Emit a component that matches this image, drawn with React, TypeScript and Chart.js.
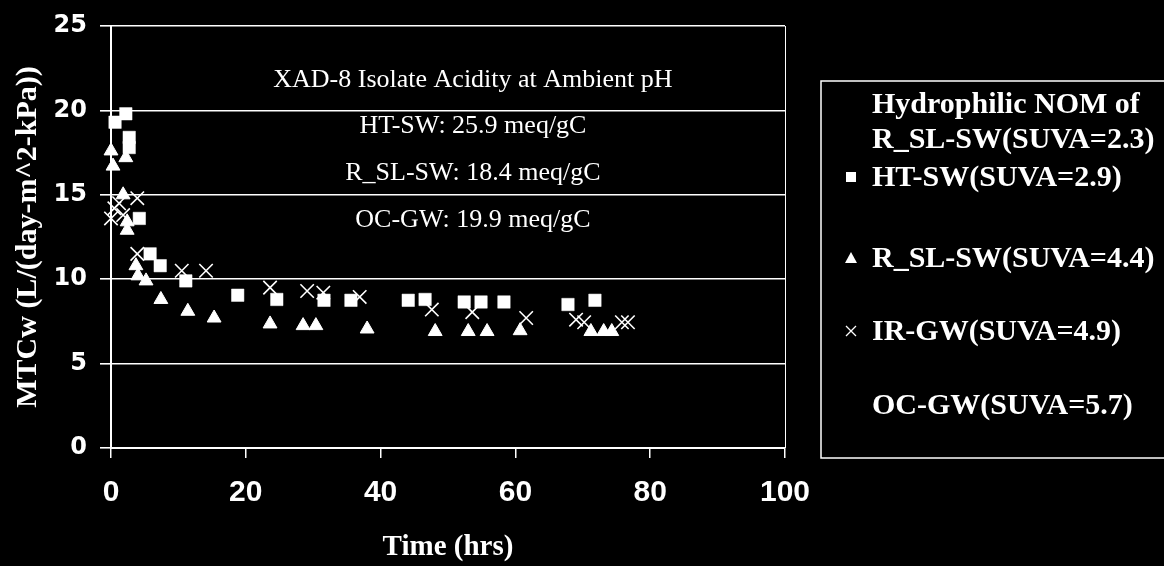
import React, { useEffect, useRef } from 'react';
import { Chart, registerables } from 'chart.js';

Chart.register(...registerables);

// ---- tick labels ----
const xTicks = [0, 20, 40, 60, 80, 100];
const yTicks = [0, 5, 10, 15, 20, 25];

// ---- series: HT-SW (SUVA=2.9), squares ----
const htTime = [0.6, 2.2, 2.7, 2.7, 4.2, 5.8, 7.3, 11.1, 18.8, 24.6, 31.6, 35.6, 44.1, 46.6, 52.4, 54.9, 58.3, 67.8, 71.8];
const htMtc = [19.3, 19.8, 18.4, 17.8, 13.6, 11.5, 10.8, 9.9, 9.05, 8.8, 8.75, 8.75, 8.75, 8.8, 8.65, 8.65, 8.65, 8.5, 8.75];

// ---- series: R_SL-SW (SUVA=4.4), triangles ----
const rslTime = [0.0, 0.3, 2.2, 1.8, 2.4, 2.4, 3.7, 4.0, 5.2, 7.4, 11.4, 15.3, 23.6, 28.5, 30.4, 38.0, 48.1, 53.0, 55.8, 60.7, 71.2, 73.1, 74.3];
const rslMtc = [17.6, 16.7, 17.2, 15.0, 13.4, 12.9, 10.8, 10.2, 9.9, 8.8, 8.1, 7.7, 7.35, 7.25, 7.25, 7.05, 6.9, 6.9, 6.9, 6.95, 6.9, 6.9, 6.9];

// ---- series: IR-GW (SUVA=4.9), crosses ----
const irTime = [0.0, 0.5, 1.2, 1.8, 3.9, 3.9, 10.5, 14.1, 23.6, 29.1, 31.5, 36.9, 47.6, 53.6, 61.6, 69.0, 70.2, 75.8, 76.7];
const irMtc = [13.6, 14.2, 14.5, 13.8, 14.8, 11.5, 10.5, 10.5, 9.5, 9.3, 9.2, 8.95, 8.2, 8.05, 7.7, 7.6, 7.45, 7.45, 7.45];

// ---- legend & annotation text ----
const legendItems = [
  'Hydrophilic NOM of',
  'R_SL-SW(SUVA=2.3)',
  'HT-SW(SUVA=2.9)',
  'R_SL-SW(SUVA=4.4)',
  'IR-GW(SUVA=4.9)',
  'OC-GW(SUVA=5.7)',
];
const legendMarkers: (string | null)[] = [null, null, 'rect', 'triangle', 'crossRot', null];

const annotationLines = [
  'XAD-8 Isolate Acidity at Ambient pH',
  'HT-SW: 25.9 meq/gC',
  'R_SL-SW: 18.4 meq/gC',
  'OC-GW: 19.9 meq/gC',
];
const annotationX = 53.7;
const annotationY = [21.4, 18.66, 15.88, 13.1];

const toPoints = (xs: number[], ys: number[]) => xs.map((x, i) => ({ x, y: ys[i] }));

const overlayPlugin = {
  id: 'overlay',
  afterDraw(chart: any) {
    const { ctx, chartArea, scales } = chart;
    ctx.save();
    ctx.strokeStyle = '#fff';
    ctx.fillStyle = '#fff';
    // right border of plot
    ctx.lineWidth = 1;
    ctx.beginPath();
    ctx.moveTo(chartArea.right + 0.5, chartArea.top);
    ctx.lineTo(chartArea.right + 0.5, chartArea.bottom);
    ctx.stroke();

    // annotation text
    ctx.font = "26px 'Liberation Serif'";
    ctx.textAlign = 'center';
    ctx.textBaseline = 'alphabetic';
    annotationLines.forEach((t, i) => {
      ctx.fillText(t, scales.x.getPixelForValue(annotationX), scales.y.getPixelForValue(annotationY[i]));
    });

    // legend box
    const boxLeft = 821;
    const boxTop = 81;
    const boxBottom = 458;
    ctx.lineWidth = 1.5;
    ctx.strokeRect(boxLeft, boxTop, 420, boxBottom - boxTop);
    const rowY = [104, 139, 177, 258, 331, 405];
    ctx.font = "bold 30px 'Liberation Serif'";
    ctx.textAlign = 'left';
    ctx.textBaseline = 'middle';
    legendItems.forEach((t, i) => {
      const y = rowY[i];
      ctx.fillText(t, 872, y + 1);
      const m = legendMarkers[i];
      const mx = 851;
      if (m === 'rect') {
        ctx.fillRect(mx - 5, y - 5, 10, 10);
      } else if (m === 'triangle') {
        ctx.beginPath();
        ctx.moveTo(mx, y - 6);
        ctx.lineTo(mx + 6, y + 5);
        ctx.lineTo(mx - 6, y + 5);
        ctx.closePath();
        ctx.fill();
      } else if (m === 'crossRot') {
        ctx.lineWidth = 1.3;
        ctx.beginPath();
        ctx.moveTo(mx - 5, y - 5);
        ctx.lineTo(mx + 5, y + 5);
        ctx.moveTo(mx + 5, y - 5);
        ctx.lineTo(mx - 5, y + 5);
        ctx.stroke();
      }
    });
    ctx.restore();
  },
};

export default function App() {
  const canvasRef = useRef<HTMLCanvasElement | null>(null);

  useEffect(() => {
    if (!canvasRef.current) return;
    const chart = new Chart(canvasRef.current, {
      type: 'scatter',
      data: {
        datasets: [
          {
            label: 'HT-SW(SUVA=2.9)',
            data: toPoints(htTime, htMtc),
            pointStyle: 'rect',
            pointRadius: 8.8,
            backgroundColor: '#fff',
            borderColor: '#fff',
            borderWidth: 0.5,
            clip: false,
          },
          {
            label: 'R_SL-SW(SUVA=4.4)',
            data: toPoints(rslTime, rslMtc),
            pointStyle: 'triangle',
            pointRadius: 8,
            backgroundColor: '#fff',
            borderColor: '#fff',
            borderWidth: 1,
            clip: false,
          },
          {
            label: 'IR-GW(SUVA=4.9)',
            data: toPoints(irTime, irMtc),
            pointStyle: 'crossRot',
            pointRadius: 9.5,
            backgroundColor: '#fff',
            borderColor: '#fff',
            borderWidth: 1.6,
            clip: false,
          },
        ],
      },
      options: {
        animation: false,
        responsive: false,
        maintainAspectRatio: false,
        events: [],
        layout: { padding: { left: 0, top: 26, right: 379, bottom: 0 } },
        plugins: {
          legend: { display: false },
          tooltip: { enabled: false },
        },
        scales: {
          x: {
            type: 'linear',
            min: 0,
            max: 100,
            afterBuildTicks: (scale: any) => {
              scale.ticks = xTicks.map((v) => ({ value: v }));
            },
            afterFit: (scale: any) => {
              scale.height = 118;
            },
            grid: {
              drawOnChartArea: false,
              drawTicks: true,
              tickLength: 10,
              color: '#fff',
              lineWidth: 1.5,
            },
            border: { display: true, color: '#fff', width: 2 },
            ticks: {
              color: '#fff',
              padding: 20,
              font: { family: "'Liberation Sans', Arial", weight: 'bold', size: 30, lineHeight: 1 },
              maxRotation: 0,
            },
            title: {
              display: true,
              text: 'Time (hrs)',
              color: '#fff',
              font: { family: "'Liberation Serif'", weight: 'bold', size: 29, lineHeight: 1 },
              padding: { top: 0, bottom: 4 },
            },
          },
          y: {
            type: 'linear',
            min: 0,
            max: 25,
            afterBuildTicks: (scale: any) => {
              scale.ticks = yTicks.map((v) => ({ value: v }));
            },
            afterFit: (scale: any) => {
              scale.width = 111;
            },
            grid: {
              drawOnChartArea: true,
              drawTicks: true,
              tickLength: 11,
              color: '#fff',
              lineWidth: 1.6,
            },
            border: { display: true, color: '#fff', width: 2 },
            ticks: {
              color: '#fff',
              padding: 13,
              font: { family: "'DejaVu Sans'", weight: 'bold', size: 24, lineHeight: 1 },
            },
            title: {
              display: true,
              text: 'MTCw (L/(day-m^2-kPa))',
              color: '#fff',
              font: { family: "'Liberation Serif'", weight: 'bold', size: 30, lineHeight: 1 },
              padding: { top: 13, bottom: 0 },
            },
          },
        },
      },
      plugins: [overlayPlugin],
    } as any);
    return () => chart.destroy();
  }, []);

  return (
    <div
      style={{
        position: 'fixed',
        left: 0,
        top: 0,
        width: 1164,
        height: 566,
        background: '#000',
        overflow: 'hidden',
      }}
    >
      <canvas ref={canvasRef} width={1164} height={566} style={{ display: 'block', width: 1164, height: 566 }} />
    </div>
  );
}
